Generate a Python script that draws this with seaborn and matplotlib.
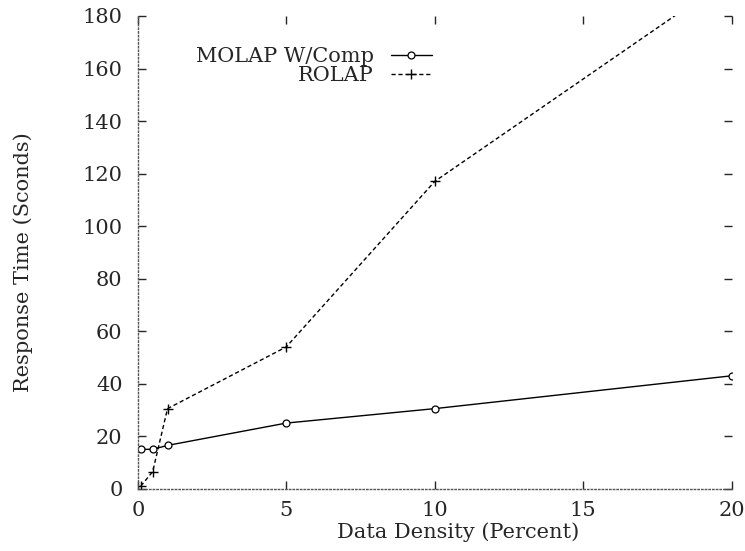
import numpy as np
import pandas as pd
import seaborn as sns
import matplotlib
matplotlib.use("Agg")
import matplotlib.pyplot as plt

# values
density = [0.1, 0.5, 1, 5, 10, 20]
molap = [15, 15, 16.5, 25, 30.5, 43]
rolap = [1, 6.5, 30.5, 54, 117, 195]

sns.set_theme(style="white")
plt.rcParams["font.family"] = ["DejaVu Serif"]

fig, ax = plt.subplots(figsize=(7.45, 5.51), dpi=100)

sns.lineplot(x=density, y=molap, color="black", linewidth=1.0,
             marker="o", markersize=5, markerfacecolor="white",
             markeredgecolor="black", markeredgewidth=0.9,
             label="MOLAP W/Comp", ax=ax)
sns.lineplot(x=density, y=rolap, color="black", linewidth=1.0,
             linestyle=(0, (3, 2)), marker="+", markersize=7,
             markeredgecolor="black", markeredgewidth=1.0,
             label="ROLAP", ax=ax)

ax.set_xlim(0, 20)
ax.set_ylim(0, 180)
ax.set_xticks([0, 5, 10, 15, 20])
ax.set_yticks(np.arange(0, 181, 20))
ax.set_xlabel("Data Density (Percent)", fontsize=15)
ax.set_ylabel("Response Time (Sconds)", fontsize=15)
ax.xaxis.set_label_coords(0.54, -0.072)
ax.yaxis.set_label_coords(-0.177, 0.48)

ax.tick_params(direction="in", length=6, width=1, labelsize=15,
               top=True, right=True, bottom=True, left=True)
ax.tick_params(axis="x", pad=9)
ax.tick_params(axis="y", pad=11)

for s in ["top", "right"]:
    ax.spines[s].set_visible(False)
for s in ["left", "bottom"]:
    ax.spines[s].set_linestyle(":")
    ax.spines[s].set_color("#555555")
    ax.spines[s].set_linewidth(1.0)

handles, labels = ax.get_legend_handles_labels()
ax.legend(handles, labels, loc="upper right", bbox_to_anchor=(0.51, 0.952),
          frameon=False, markerfirst=False, fontsize=15, handlelength=2.0,
          handletextpad=0.8, labelspacing=0.0, borderaxespad=0.0)

plt.subplots_adjust(left=0.185, right=0.982, top=0.971, bottom=0.113)
fig.savefig("out.png", dpi=100)
